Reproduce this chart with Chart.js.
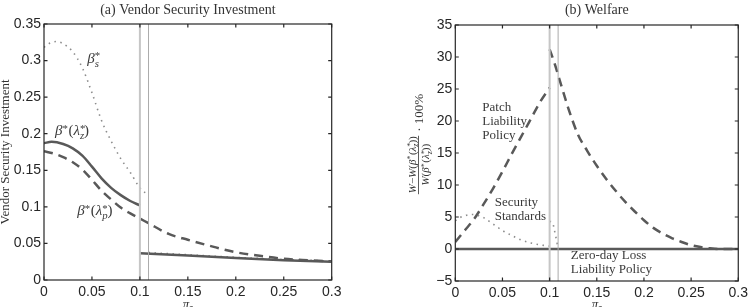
<!DOCTYPE html>
<html>
<head>
<meta charset="utf-8">
<script src="https://cdn.jsdelivr.net/npm/chart.js@4.4.1/dist/chart.umd.min.js"></script>
<style>
  html, body { margin: 0; padding: 0; background: #fff; overflow: hidden; }
  canvas { position: absolute; top: 0; }
  #invest { left: 0; }
  #welfare { left: 376px; }
</style>
</head>
<body>
<canvas id="invest" width="376" height="307"></canvas>
<canvas id="welfare" width="376" height="307"></canvas>
<script>
// ---- tick values / labels ----
const piTicks = [0, 0.05, 0.1, 0.15, 0.2, 0.25, 0.3];
const piLabels = ['0', '0.05', '0.1', '0.15', '0.2', '0.25', '0.3'];
const investTicks = [0, 0.05, 0.1, 0.15, 0.2, 0.25, 0.3, 0.35];
const investLabels = ['0', '0.05', '0.1', '0.15', '0.2', '0.25', '0.3', '0.35'];
const welfareTicks = [-5, 0, 5, 10, 15, 20, 25, 30, 35];
const welfareLabels = ['\u22125', '0', '5', '10', '15', '20', '25', '30', '35'];

// regime boundaries (vertical guides)
const piLow = 0.1;
const piHigh = 0.109;

// ---- (a) vendor security investment ----
const betaSX = [0, 0.005, 0.013, 0.02, 0.03, 0.04, 0.05, 0.06, 0.07, 0.08, 0.09, 0.1, 0.109, 0.109, 0.109, 0.15, 0.2, 0.25, 0.3];
const betaSY = [0.318, 0.323, 0.326, 0.323, 0.312, 0.290, 0.256, 0.218, 0.190, 0.166, 0.147, 0.126, 0.116, null, 0.0375, 0.0345, 0.031, 0.028, 0.026];

const betaZX = [0, 0.008, 0.02, 0.03, 0.04, 0.05, 0.06, 0.07, 0.08, 0.09, 0.1, 0.1, 0.1, 0.15, 0.2, 0.25, 0.3];
const betaZY = [0.187, 0.189, 0.186, 0.180, 0.170, 0.155, 0.139, 0.126, 0.116, 0.108, 0.102, null, 0.0365, 0.0335, 0.030, 0.027, 0.025];

const betaPX = [0, 0.01, 0.02, 0.03, 0.04, 0.05, 0.06, 0.07, 0.08, 0.09, 0.1, 0.109, 0.13, 0.15, 0.175, 0.2, 0.225, 0.25, 0.275, 0.3];
const betaPY = [0.176, 0.173, 0.168, 0.161, 0.151, 0.137, 0.122, 0.110, 0.099, 0.091, 0.084, 0.0776, 0.063, 0.055, 0.046, 0.038, 0.033, 0.029, 0.027, 0.0255];

// ---- (b) welfare ----
const patchX = [0, 0.01, 0.02, 0.03, 0.04, 0.05, 0.06, 0.07, 0.08, 0.09, 0.1, 0.1, 0.1, 0.105, 0.11, 0.12, 0.13, 0.14, 0.15, 0.16, 0.17, 0.18, 0.19, 0.2, 0.21, 0.22, 0.23, 0.24, 0.25, 0.26, 0.27, 0.28, 0.29, 0.3];
const patchY = [1.1, 2.9, 4.7, 7.0, 9.45, 12.1, 14.9, 17.6, 20.3, 23.0, 25.2, null, 31.2, 29.1, 26.7, 21.9, 17.9, 15.3, 13.0, 10.95, 9.1, 7.4, 5.9, 4.5, 3.3, 2.4, 1.67, 1.1, 0.6, 0.3, 0.1, 0, 0, 0];

const standardsX = [0, 0.005, 0.01, 0.018, 0.025, 0.03, 0.04, 0.05, 0.06, 0.07, 0.08, 0.09, 0.1, 0.1, 0.1, 0.103, 0.105, 0.107, 0.109, 0.11, 0.3];
const standardsY = [4.4, 4.9, 5.2, 5.4, 5.2, 4.9, 3.9, 2.9, 2.1, 1.4, 0.95, 0.65, 0.45, null, 4.3, 4.2, 3.0, 1.6, 0.2, 0, 0];

const zeroDayX = [0, 0.3];
const zeroDayY = [0, 0];

// ---- helpers ----
const SERIF = '"Liberation Serif", "Times New Roman", serif';
const SANS = '"Liberation Sans", Arial, sans-serif';
const INK = '#595959';

function pts(xs, ys) { return xs.map((x, i) => ({ x: x, y: ys[i] })); }

function line(xs, ys, style) {
  return Object.assign({
    data: pts(xs, ys),
    pointRadius: 0,
    fill: false,
    cubicInterpolationMode: 'monotone'
  }, style);
}

const solid = { borderColor: INK, borderWidth: 2.5 };
const dashed = { borderColor: INK, borderWidth: 2.5, borderDash: [9, 6] };
const dotted = { borderColor: '#8c8c8c', borderWidth: 1.6, borderDash: [1.5, 4.5] };

function guides(yMin, yMax) {
  return [
    { data: pts([piLow, piLow], [yMin, yMax]), pointRadius: 0, tension: 0, borderColor: '#c6c6c6', borderWidth: 2 },
    { data: pts([piHigh, piHigh], [yMin, yMax]), pointRadius: 0, tension: 0, borderColor: '#ababab', borderWidth: 1 }
  ];
}

// draw text made of pieces: {t, it, sup, sub, keep}
function rich(ctx, parts, x, y, size, align) {
  const fontFor = p => (p.it ? 'italic ' : '') + ((p.sup || p.sub) ? size * 0.72 : size) + 'px ' + SERIF;
  let w = 0;
  parts.forEach(p => { ctx.font = fontFor(p); if (!p.keep) w += ctx.measureText(p.t).width; });
  let cx = align === 'center' ? x - w / 2 : x;
  ctx.textAlign = 'left';
  ctx.textBaseline = 'alphabetic';
  parts.forEach(p => {
    ctx.font = fontFor(p);
    const dy = p.sup ? -size * 0.22 : p.sub ? size * 0.25 : 0;
    ctx.fillText(p.t, cx, y + dy);
    if (!p.keep) cx += ctx.measureText(p.t).width + (p.sup ? 0.5 : 0);
  });
  return w;
}

function xAxis(height) {
  return {
    type: 'linear', min: 0, max: 0.3,
    afterBuildTicks: s => { s.ticks = piTicks.map(v => ({ value: v })); },
    afterFit: s => { s.height = height; },
    ticks: { callback: (v, i) => piLabels[i], font: { family: SANS, size: 14 }, color: '#262626', padding: 4, maxRotation: 0, autoSkip: false },
    grid: { display: false, drawTicks: false },
    border: { display: false }
  };
}

function yAxis(min, max, ticks, labels, width) {
  return {
    type: 'linear', min: min, max: max,
    afterBuildTicks: s => { s.ticks = ticks.map(v => ({ value: v })); },
    afterFit: s => { s.width = width; },
    ticks: { callback: (v, i) => labels[i], font: { family: SANS, size: 14 }, color: '#262626', padding: 3, autoSkip: false },
    grid: { display: false, drawTicks: false },
    border: { display: false }
  };
}

// box + inward ticks + title + pi_z label
function frame(title) {
  return {
    id: 'frame',
    afterDraw(chart) {
      const ctx = chart.ctx, a = chart.chartArea;
      const sx = chart.scales.x, sy = chart.scales.y;
      ctx.save();
      ctx.strokeStyle = '#262626';
      ctx.lineWidth = 1.2;
      ctx.strokeRect(a.left, a.top, a.right - a.left, a.bottom - a.top);
      ctx.beginPath();
      piTicks.forEach(v => {
        const px = sx.getPixelForValue(v);
        ctx.moveTo(px, a.bottom); ctx.lineTo(px, a.bottom - 3.5);
        ctx.moveTo(px, a.top); ctx.lineTo(px, a.top + 3.5);
      });
      sy.ticks.forEach(t => {
        const py = sy.getPixelForValue(t.value);
        ctx.moveTo(a.left, py); ctx.lineTo(a.left + 3.5, py);
        ctx.moveTo(a.right, py); ctx.lineTo(a.right - 3.5, py);
      });
      ctx.stroke();

      const mid = (a.left + a.right) / 2;
      ctx.fillStyle = '#333';
      ctx.font = '14px ' + SERIF;
      ctx.textAlign = 'center';
      ctx.textBaseline = 'alphabetic';
      ctx.fillText(title, mid, 13.5);

      rich(ctx, [{ t: '\u03c0', it: true }, { t: 'z', it: true, sub: true }], mid, 308, 13, 'center');
      ctx.restore();
    }
  };
}

function notes(list) {
  return {
    id: 'notes',
    afterDraw(chart) {
      const ctx = chart.ctx, sx = chart.scales.x, sy = chart.scales.y;
      ctx.save();
      ctx.fillStyle = '#3a3a3a';
      list.forEach(n => rich(ctx, n.parts, sx.getPixelForValue(n.x), sy.getPixelForValue(n.y), n.size || 13, 'left'));
      ctx.restore();
    }
  };
}

const investNotes = [
  { x: 0.045, y: 0.297, size: 15, parts: [{ t: '\u03b2', it: true }, { t: '*', sup: true, keep: true }, { t: 's', it: true, sub: true }] },
  { x: 0.0115, y: 0.1985, size: 15, parts: [{ t: '\u03b2', it: true }, { t: '*', sup: true }, { t: '(' }, { t: '\u03bb', it: true }, { t: '*', sup: true, keep: true }, { t: 'z', it: true, sub: true }, { t: ')' }] },
  { x: 0.0347, y: 0.089, size: 15, parts: [{ t: '\u03b2', it: true }, { t: '*', sup: true }, { t: '(' }, { t: '\u03bb', it: true }, { t: '*', sup: true, keep: true }, { t: 'p', it: true, sub: true }, { t: ')' }] }
];

const welfareNotes = [
  { x: 0.0286, y: 21.6, parts: [{ t: 'Patch' }] },
  { x: 0.0286, y: 19.4, parts: [{ t: 'Liability' }] },
  { x: 0.0286, y: 17.2, parts: [{ t: 'Policy' }] },
  { x: 0.0418, y: 6.7, parts: [{ t: 'Security' }] },
  { x: 0.0418, y: 4.5, parts: [{ t: 'Standards' }] },
  { x: 0.1225, y: -1.56, parts: [{ t: 'Zero-day Loss' }] },
  { x: 0.1225, y: -3.7, parts: [{ t: 'Liability Policy' }] }
];

const investYLabel = {
  id: 'ylabel',
  afterDraw(chart) {
    const ctx = chart.ctx, a = chart.chartArea;
    ctx.save();
    ctx.translate(9, (a.top + a.bottom) / 2);
    ctx.rotate(-Math.PI / 2);
    ctx.fillStyle = '#333';
    ctx.font = '13px ' + SERIF;
    ctx.textAlign = 'center';
    ctx.textBaseline = 'alphabetic';
    ctx.fillText('Vendor Security Investment', 0, 0);
    ctx.restore();
  }
};

const welfareYLabel = {
  id: 'ylabel',
  afterDraw(chart) {
    const ctx = chart.ctx;
    ctx.save();
    ctx.translate(43, 143);
    ctx.rotate(-Math.PI / 2);
    ctx.fillStyle = '#333';
    ctx.strokeStyle = '#333';
    const beta = [{ t: 'W', it: true }, { t: '(' }, { t: '\u03b2', it: true }, { t: '*', sup: true }, { t: '(' }, { t: '\u03bb', it: true }, { t: '*', sup: true, keep: true }, { t: 'z', it: true, sub: true }, { t: '))' }];
    const num = [{ t: 'W', it: true }, { t: '\u2212' }].concat(beta);
    ctx.globalAlpha = 0;
    const wn = rich(ctx, num, 0, 0, 11, 'left');
    ctx.globalAlpha = 1;
    const fc = -22;
    rich(ctx, num, fc, -3.5, 11, 'center');
    rich(ctx, beta, fc, 10, 11, 'center');
    ctx.lineWidth = 0.8;
    ctx.beginPath();
    ctx.moveTo(fc - wn / 2 - 1, -0.5);
    ctx.lineTo(fc + wn / 2 + 1, -0.5);
    ctx.stroke();
    ctx.font = '13px ' + SERIF;
    ctx.textAlign = 'left';
    ctx.fillText('\u00b7 100%', fc + wn / 2 + 5, 4);
    ctx.restore();
  }
};

new Chart(document.getElementById('invest'), {
  type: 'line',
  data: {
    datasets: guides(0, 0.35).concat([
      line(betaPX, betaPY, dashed),
      line(betaZX, betaZY, solid),
      line(betaSX, betaSY, dotted)
    ])
  },
  options: {
    responsive: false,
    animation: false,
    devicePixelRatio: 1,
    layout: { padding: { left: 0, right: 44.3, top: 24, bottom: 0 } },
    plugins: { legend: { display: false }, tooltip: { enabled: false } },
    scales: {
      x: xAxis(27),
      y: yAxis(0, 0.35, investTicks, investLabels, 44)
    }
  },
  plugins: [frame('(a) Vendor Security Investment'), notes(investNotes), investYLabel]
});

new Chart(document.getElementById('welfare'), {
  type: 'line',
  data: {
    datasets: guides(-5, 35).concat([
      line(zeroDayX, zeroDayY, solid),
      line(standardsX, standardsY, dotted),
      line(patchX, patchY, dashed)
    ])
  },
  options: {
    responsive: false,
    animation: false,
    devicePixelRatio: 1,
    layout: { padding: { left: 0, right: 9.3, top: 25, bottom: 0 } },
    plugins: { legend: { display: false }, tooltip: { enabled: false } },
    scales: {
      x: xAxis(26),
      y: yAxis(-5, 35, welfareTicks, welfareLabels, 79.3)
    }
  },
  plugins: [frame('(b) Welfare'), notes(welfareNotes), welfareYLabel]
});
</script>
</body>
</html>
